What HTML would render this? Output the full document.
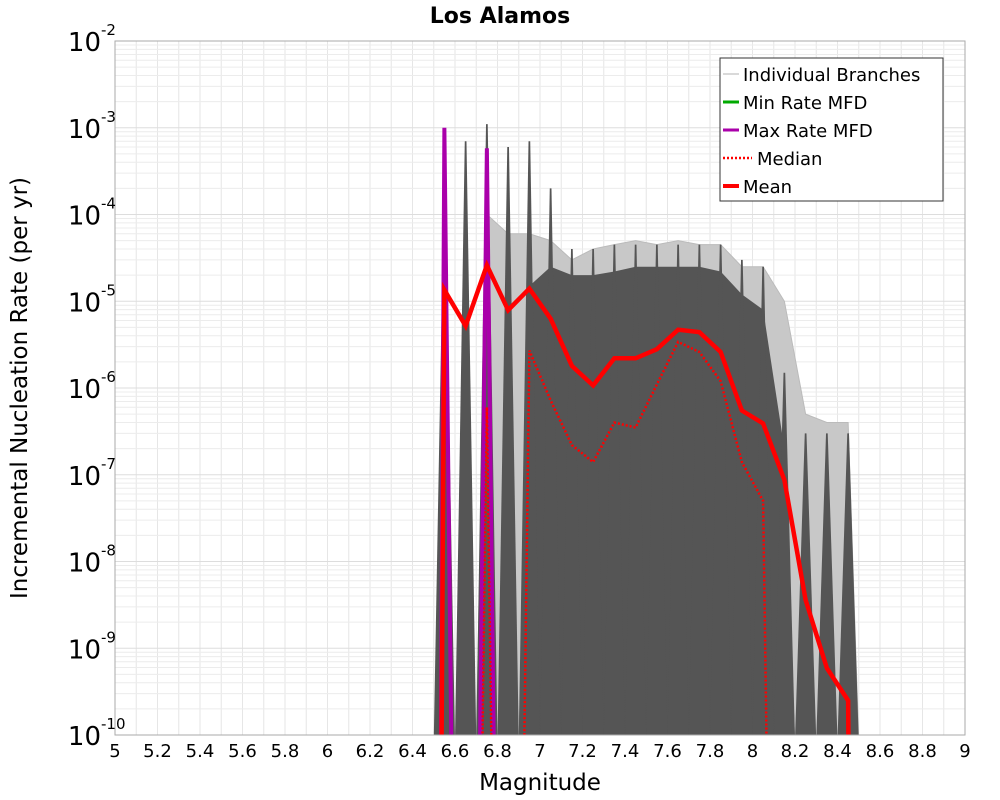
<!DOCTYPE html>
<html><head><meta charset="utf-8"><style>
body{margin:0;background:#fff;font-family:"DejaVu Sans","Liberation Sans",sans-serif;overflow:hidden}
svg{display:block}
svg text{font-family:"DejaVu Sans","Liberation Sans",sans-serif}
</style></head><body>
<svg id="chart" width="1000" height="800" xmlns="http://www.w3.org/2000/svg">
<defs><clipPath id="clip"><rect x="115" y="41" width="850" height="694"/></clipPath></defs>
<text x="500" y="23" text-anchor="middle" font-size="22" font-weight="bold">Los Alamos</text>
<g id="grid"></g>
<g id="branches" clip-path="url(#clip)"></g>
<g id="series" clip-path="url(#clip)"></g>
<rect x="115" y="41" width="850" height="694" fill="none" stroke="#aaa" stroke-width="1"/>
<g id="axes"></g>
<text x="540" y="790" text-anchor="middle" font-size="23">Magnitude</text>
<text transform="translate(27,388) rotate(-90)" text-anchor="middle" font-size="23">Incremental Nucleation Rate (per yr)</text>
<g>
<rect x="720" y="58" width="223" height="143" fill="#fff" stroke="#333" stroke-width="1"/>
<line x1="723" y1="74" x2="739" y2="74" stroke="#ccc" stroke-width="1.5"/>
<text x="743" y="81" font-size="18">Individual Branches</text>
<line x1="723" y1="102" x2="739" y2="102" stroke="#00aa00" stroke-width="3"/>
<text x="743" y="109" font-size="18">Min Rate MFD</text>
<line x1="723" y1="130" x2="739" y2="130" stroke="#aa00aa" stroke-width="3"/>
<text x="743" y="137" font-size="18">Max Rate MFD</text>
<line x1="723" y1="158" x2="752" y2="158" stroke="red" stroke-width="2.5" stroke-dasharray="2,2"/>
<text x="757" y="165" font-size="18">Median</text>
<line x1="723" y1="186" x2="739" y2="186" stroke="red" stroke-width="4"/>
<text x="743" y="193" font-size="18">Mean</text>
</g>
</svg>
<script>
const xTicks=[5,5.2,5.4,5.6,5.8,6,6.2,6.4,6.6,6.8,7,7.2,7.4,7.6,7.8,8,8.2,8.4,8.6,8.8,9];
const yExps=[-2,-3,-4,-5,-6,-7,-8,-9,-10];
const bins=[6.55,6.65,6.75,6.85,6.95,7.05,7.15,7.25,7.35,7.45,7.55,7.65,7.75,7.85,7.95,8.05,8.15,8.25,8.35,8.45];
const meanVals=[1.35e-5,5.2e-6,2.6e-5,7.9e-6,1.4e-5,6.3e-6,1.8e-6,1.07e-6,2.2e-6,2.2e-6,2.8e-6,4.7e-6,4.4e-6,2.6e-6,5.5e-7,3.9e-7,8.7e-8,3.6e-9,5.9e-10,2.5e-10];
const medianVals=[0,0,6e-7,0,2.7e-6,7.2e-7,2.2e-7,1.4e-7,4e-7,3.5e-7,1.1e-6,3.4e-6,2.6e-6,1.2e-6,1.4e-7,5e-8,0,0,0,0];
const maxVals=[1e-3,0,5.8e-4,0,0,0,0,0,0,0,0,0,0,0,0,0,0,0,0,0];
const peakVals=[1.2e-4,7e-4,1.1e-3,6e-4,7e-4,2e-4,4e-5,4e-5,4.5e-5,4.5e-5,4.5e-5,4.5e-5,4.5e-5,4.5e-5,3e-5,2.5e-5,1.5e-6,3e-7,3e-7,3e-7];
const lightVals=[0,0,1e-4,6e-5,6e-5,5e-5,3e-5,4e-5,4.5e-5,5e-5,4.5e-5,5e-5,4.5e-5,4.5e-5,2.5e-5,2.5e-5,1e-5,5e-7,4e-7,4e-7];
const bodyVals=[0,0,0,0,1.5e-5,2.5e-5,2e-5,2e-5,2.2e-5,2.5e-5,2.5e-5,2.5e-5,2.5e-5,2.2e-5,1.2e-5,8e-6,2e-7,0,0,0];
const NS='http://www.w3.org/2000/svg';
const X=m=>115+(m-5)*212.5;
const Y=v=>v<=0?2000:41-(Math.log10(v)+2)*86.75;
function mk(p,t,a){const e=document.createElementNS(NS,t);for(const k in a)e.setAttribute(k,a[k]);p.appendChild(e);return e;}
const grid=document.getElementById('grid'),axes=document.getElementById('axes'),br=document.getElementById('branches'),se=document.getElementById('series');
for(let i=0;i<=40;i++){const l=mk(grid,'line',{x1:X(5+i*0.1),x2:X(5+i*0.1),y1:41,y2:735,stroke:'#e6e6e6','stroke-width':1});

}
for(let e=-10;e<-2;e++)for(let k=1;k<10;k++){const y=Y(k*Math.pow(10,e));const l=mk(grid,'line',{x1:115,x2:965,y1:y,y2:y,stroke:k==1?'#ddd':'#ececec','stroke-width':1});

}
xTicks.forEach(t=>{const tx=mk(axes,'text',{x:X(t),y:757,'text-anchor':'middle','font-size':18});tx.textContent=String(t);

});
yExps.forEach(e=>{const y=Y(Math.pow(10,e));const tx=mk(axes,'text',{x:101,y:y+10,'text-anchor':'end','font-size':26});tx.textContent='10';


const s=mk(axes,'text',{x:101,y:y-6,'font-size':15});s.textContent=String(e);

});
const B=740;
// light envelope area
let lp=[X(6.7)+','+B];bins.forEach((b,i)=>{if(lightVals[i]>0)lp.push(X(b)+','+Y(lightVals[i]));});lp.push(X(8.5)+','+B);
const light=mk(br,'polygon',{points:lp.join(' '),fill:'#c8c8c8',stroke:'#bbb','stroke-width':1});


// body
let bp=[X(6.9)+','+B];bins.forEach((b,i)=>{if(bodyVals[i]>0)bp.push(X(b)+','+Y(bodyVals[i]));});bp.push(X(8.2)+','+B);
const body=mk(br,'polygon',{points:bp.join(' '),fill:'#555'});


bins.forEach((b,i)=>{const p=mk(br,'polygon',{points:`${X(b-0.05)},${B} ${X(b-0.004)},${Y(peakVals[i])} ${X(b+0.004)},${Y(peakVals[i])} ${X(b+0.05)},${B}`,fill:'#555'});

});
function line(vals,attrs,name){const pts=[];
if(vals[0]>0)pts.push(X(bins[0]-0.05)+','+2000);
bins.forEach((b,i)=>pts.push(X(b)+','+Y(vals[i])));
if(vals[vals.length-1]>0)pts.push(X(bins[bins.length-1]+0.05)+','+2000);
const l=mk(se,'polyline',Object.assign({points:pts.join(' '),fill:'none','stroke-linejoin':'miter'},attrs));

}
line(maxVals,{stroke:'#aa00aa','stroke-width':4},'max-rate-line');
line(medianVals,{stroke:'red','stroke-width':2.5,'stroke-dasharray':'2,2'},'median-line');
line(meanVals,{stroke:'red','stroke-width':4.5},'mean-line');
</script>
</body></html>
